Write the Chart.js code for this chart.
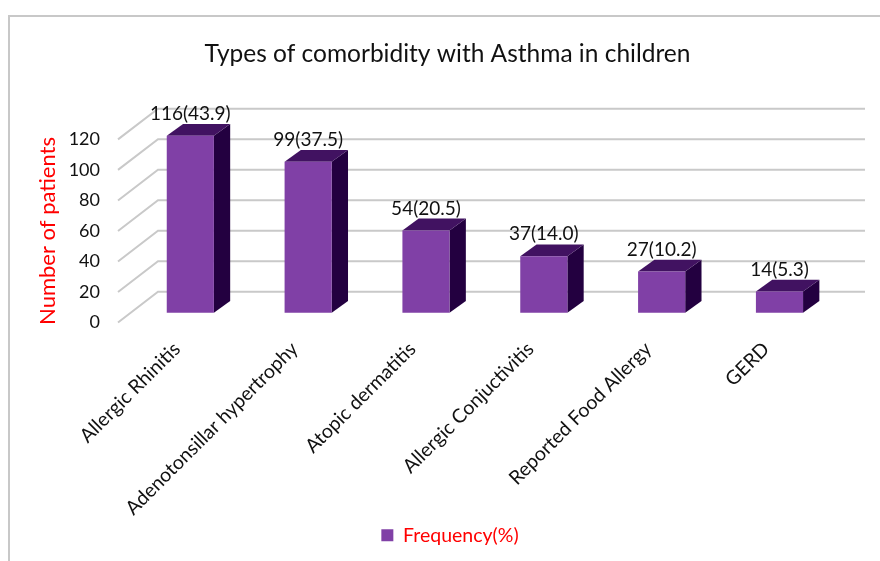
<!DOCTYPE html>
<html>
<head>
<meta charset="utf-8">
<title>Types of comorbidity with Asthma in children</title>
<script src="https://cdn.jsdelivr.net/npm/chart.js@4"></script>
<style>
    html, body { margin: 0; padding: 0; background: #fff; }
    canvas { display: block; }
</style>
</head>
<body>
<div style="width:880px;height:561px"><canvas id="myChart"></canvas></div>
<script>
const categories = ['Allergic Rhinitis', 'Adenotonsillar hypertrophy', 'Atopic dermatitis',
                    'Allergic Conjuctivitis', 'Reported Food Allergy', 'GERD'];
const patients = [116, 99, 54, 37, 27, 14];
const percents = ['43.9', '37.5', '20.5', '14.0', '10.2', '5.3'];

const FONT = 'Lato, "Open Sans", sans-serif';
const FRONT = '#8040a6', TOP = '#411261', SIDE = '#230040', GRID = '#c9c9c9';

// depth of the floor, and how far into it the bars stand
const DEPTH_X = 40, DEPTH_Y = 30.7;
const BAR_X = 13.4, BAR_Y = 9.7, BAR_DX = 16.3, BAR_DY = 11.8;

function poly(ctx, color, pts)
{
    ctx.fillStyle = color;
    ctx.beginPath();
    pts.forEach((p, i) => i ? ctx.lineTo(p[0], p[1]) : ctx.moveTo(p[0], p[1]));
    ctx.closePath();
    ctx.fill();
}

function centerBox(box, center)
{
    let half = (box.right - box.left) / 2;
    box.left = center - half;
    box.right = center + half;
}

const box3d = {
    id: 'box3d',
    afterLayout(chart) {
        centerBox(chart.titleBlock, 447.5);
        centerBox(chart.legend, 450);
    },
    beforeDraw(chart) {
        // outer frame, open to the right and the bottom
        let ctx = chart.ctx;
        ctx.save();
        ctx.strokeStyle = '#c8c8c8';
        ctx.lineWidth = 2;
        ctx.beginPath();
        ctx.moveTo(9, 561);
        ctx.lineTo(9, 16);
        ctx.lineTo(880, 16);
        ctx.stroke();
        ctx.restore();
    },
    beforeDatasetsDraw(chart) {
        let ctx = chart.ctx, y = chart.scales.y, area = chart.chartArea;
        ctx.save();
        ctx.strokeStyle = GRID;
        ctx.lineWidth = 2;
        y.ticks.forEach(t => {
            let py = y.getPixelForValue(t.value);
            ctx.beginPath();
            ctx.moveTo(area.left, py);
            ctx.lineTo(area.left + DEPTH_X, py - DEPTH_Y);
            ctx.lineTo(area.right + DEPTH_X, py - DEPTH_Y);
            ctx.stroke();
        });
        ctx.restore();
    },
    beforeDatasetDraw(chart, args) {
        let ctx = chart.ctx;
        ctx.save();
        ctx.translate(BAR_X, -BAR_Y);
        args.meta.data.forEach(bar => {
            let b = bar.getProps(['x', 'y', 'base', 'width'], true);
            let l = b.x - b.width / 2, r = b.x + b.width / 2;
            poly(ctx, SIDE, [[r, b.y], [r + BAR_DX, b.y - BAR_DY], [r + BAR_DX, b.base - BAR_DY], [r, b.base]]);
            poly(ctx, TOP, [[l, b.y], [l + BAR_DX, b.y - BAR_DY], [r + BAR_DX, b.y - BAR_DY], [r, b.y]]);
        });
    },
    afterDatasetDraw(chart) {
        chart.ctx.restore();
    },
    afterDatasetsDraw(chart) {
        let ctx = chart.ctx;
        ctx.save();
        ctx.fillStyle = '#111';
        ctx.font = '19px ' + FONT;
        ctx.textAlign = 'center';
        ctx.textBaseline = 'middle';
        chart.getDatasetMeta(0).data.forEach((bar, i) => {
            ctx.fillText(patients[i] + '(' + percents[i] + ')', bar.x + BAR_X, bar.y - BAR_Y - 22);
        });
        ctx.restore();
    }
};

new Chart(document.getElementById('myChart'), {
    type: 'bar',
    data: {
        labels: categories,
        datasets: [{
            label: 'Frequency(%)',
            data: patients,
            backgroundColor: FRONT,
            borderWidth: 0,
            barPercentage: 0.4,
            categoryPercentage: 1,
            clip: false
        }]
    },
    options: {
        responsive: true,
        maintainAspectRatio: false,
        animation: false,
        layout: { padding: { right: 55, bottom: 6 } },
        plugins: {
            tooltip: { enabled: false },
            title: {
                display: true,
                text: 'Types of comorbidity with Asthma in children',
                color: '#111',
                font: { family: FONT, size: 24.5, weight: 'normal' },
                padding: { top: 39, bottom: 71 }
            },
            legend: {
                position: 'bottom',
                labels: {
                    color: '#ff0000',
                    boxWidth: 12,
                    boxHeight: 12,
                    padding: 8,
                    font: { family: FONT, size: 19.5 }
                }
            }
        },
        scales: {
            x: {
                grid: { display: false },
                border: { display: false },
                afterFit: scale => { scale.height = 195; },
                ticks: {
                    color: '#111',
                    font: { family: FONT, size: 19.5 },
                    minRotation: 45,
                    maxRotation: 45,
                    autoSkip: false,
                    padding: 7
                }
            },
            y: {
                min: 0,
                max: 120,
                grid: { display: false },
                border: { display: false },
                afterFit: scale => { scale.width = 118; },
                ticks: {
                    stepSize: 20,
                    color: '#111',
                    font: { family: FONT, size: 18 },
                    padding: 10
                },
                title: {
                    display: true,
                    text: 'Number of patients',
                    color: '#ff0000',
                    font: { family: FONT, size: 22 },
                    padding: { top: 35, bottom: 0 }
                }
            }
        }
    },
    plugins: [box3d]
});
</script>
</body>
</html>
